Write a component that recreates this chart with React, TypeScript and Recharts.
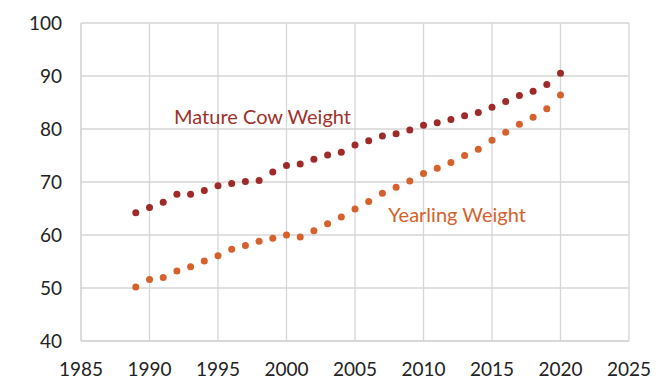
import React from 'react';
import {
  ScatterChart,
  Scatter,
  XAxis,
  YAxis,
  CartesianGrid,
  ReferenceDot,
} from 'recharts';

const years = [
  1989, 1990, 1991, 1992, 1993, 1994, 1995, 1996, 1997, 1998, 1999, 2000, 2001, 2002, 2003, 2004,
  2005, 2006, 2007, 2008, 2009, 2010, 2011, 2012, 2013, 2014, 2015, 2016, 2017, 2018, 2019, 2020,
];
const matureCow = [
  64.2, 65.2, 66.2, 67.7, 67.7, 68.4, 69.3, 69.7, 70.1, 70.3, 71.9, 73.1, 73.4, 74.3, 75.1, 75.6,
  77.0, 77.8, 78.7, 79.1, 79.8, 80.7, 81.2, 81.8, 82.5, 83.1, 84.1, 85.2, 86.3, 87.1, 88.4, 90.5,
];
const yearling = [
  50.2, 51.6, 52.0, 53.2, 54.0, 55.1, 56.1, 57.3, 58.0, 58.8, 59.4, 60.0, 59.6, 60.8, 62.1, 63.4,
  64.9, 66.3, 67.9, 69.0, 70.2, 71.6, 72.6, 73.7, 75.0, 76.2, 77.9, 79.4, 80.9, 82.2, 83.8, 86.4,
];
const xTicks = [1985, 1990, 1995, 2000, 2005, 2010, 2015, 2020, 2025];
const yTicks = [40, 50, 60, 70, 80, 90, 100];
const labelMature = { text: 'Mature Cow Weight', x: 1998.25, y: 82.3 };
const labelYearling = { text: 'Yearling Weight', x: 2012.45, y: 63.8 };

const matureData = years.map((x, i) => ({ x, y: matureCow[i] }));
const yearlingData = years.map((x, i) => ({ x, y: yearling[i] }));

const DARK = '#9f2a2a';
const ORANGE = '#d5622c';
const FONT = 'Lato, "Open Sans", sans-serif';

const dot = (color: string) => (props: any) => (
  <circle cx={props.cx} cy={props.cy} r={3.5} fill={color} />
);

export default function App() {
  return (
    <div style={{ position: 'absolute', left: 0, top: 0, width: 671, height: 390, background: '#fff' }}>
      <ScatterChart
        width={671}
        height={390}
        margin={{ top: 23, right: 42, bottom: 0, left: 0 }}
        style={{ fontFamily: FONT }}
      >
        <CartesianGrid stroke="#d6d6d6" strokeWidth={1.3} />
        <XAxis
          type="number"
          dataKey="x"
          domain={[1985, 2025]}
          ticks={xTicks}
          interval={0}
          height={49}
          axisLine={{ stroke: '#d6d6d6', strokeWidth: 1.3 }}
          tickLine={false}
          tickSize={0}
          tickMargin={22}
          tick={{ fill: '#222', fontSize: 19, fontFamily: FONT }}
        />
        <YAxis
          type="number"
          dataKey="y"
          domain={[40, 100]}
          ticks={yTicks}
          interval={0}
          width={81}
          axisLine={{ stroke: '#d6d6d6', strokeWidth: 1.3 }}
          tickLine={false}
          tickSize={0}
          tickMargin={19}
          tick={{ fill: '#222', fontSize: 19, fontFamily: FONT }}
        />
        <Scatter data={matureData} fill={DARK} shape={dot(DARK)} isAnimationActive={false} />
        <Scatter data={yearlingData} fill={ORANGE} shape={dot(ORANGE)} isAnimationActive={false} />
        <ReferenceDot
          x={labelMature.x}
          y={labelMature.y}
          r={0}
          stroke="none"
          fill="none"
          label={{ value: labelMature.text, position: 'center', fill: '#a0302b', fontSize: 20, fontFamily: FONT }}
        />
        <ReferenceDot
          x={labelYearling.x}
          y={labelYearling.y}
          r={0}
          stroke="none"
          fill="none"
          label={{ value: labelYearling.text, position: 'center', fill: '#d4622b', fontSize: 20, fontFamily: FONT }}
        />
      </ScatterChart>
    </div>
  );
}
